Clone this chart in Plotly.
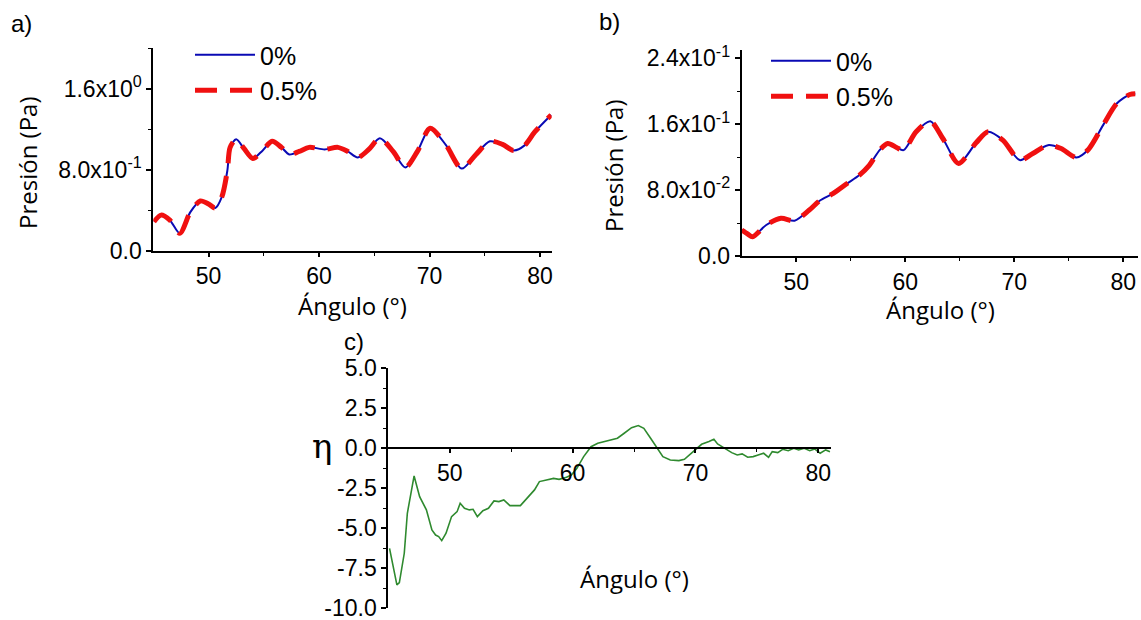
import plotly.graph_objects as go

W, H = 1141, 620

# ---------------- data ----------------
# Panel a: Presión (Pa) vs Ángulo (°)
angle_a = [45.06, 45.7, 46.5, 47.4, 48.35, 49.25, 50.0, 50.6, 51.2, 51.7, 51.95, 52.5, 53.2, 54.0,
           54.9, 55.75, 56.6, 57.3, 58.2, 59.1, 60.5, 61.7, 62.6, 63.5, 64.5, 65.5, 66.7, 67.8,
           68.9, 70.05, 71.5, 72.9, 74.2, 75.45, 76.6, 77.6, 78.6, 79.5, 81.0]
p0_a = [0.285, 0.35, 0.30, 0.17, 0.38, 0.49, 0.46, 0.42, 0.53, 0.79, 1.02, 1.10, 1.01, 0.91,
        0.99, 1.08, 1.02, 0.95, 0.98, 1.02, 1.00, 1.02, 0.98, 0.92, 1.00, 1.11, 0.98, 0.82,
        0.98, 1.21, 1.04, 0.81, 0.95, 1.08, 1.05, 0.99, 1.04, 1.17, 1.34]
p05_a = [0.285, 0.35, 0.30, 0.17, 0.38, 0.49, 0.46, 0.42, 0.53, 0.79, 1.02, 1.10, 1.01, 0.91,
         0.99, 1.08, 1.02, 0.95, 0.98, 1.02, 1.00, 1.02, 0.98, 0.92, 1.00, 1.11, 0.98, 0.82,
         0.98, 1.21, 1.04, 0.81, 0.95, 1.08, 1.05, 0.99, 1.04, 1.17, 1.34]

# Panel b
angle_b = [45.0, 45.55, 46.0, 47.25, 48.6, 49.85, 51.2, 52.15, 53.4, 54.6, 55.8, 56.7, 57.65,
           58.4, 59.2, 59.85, 61.0, 62.3, 63.45, 64.9, 66.5, 67.6, 68.95, 70.5, 71.7, 73.1,
           74.3, 75.7, 76.8, 78.15, 79.4, 80.6, 81.1]
p0_b = [0.0315, 0.0267, 0.0234, 0.0376, 0.0457, 0.0428, 0.0558, 0.0671, 0.0760, 0.0873, 0.0982,
        0.110, 0.1285, 0.1366, 0.1317, 0.1285, 0.1507, 0.1636, 0.1426, 0.1123, 0.1374, 0.1507,
        0.1406, 0.1164, 0.1244, 0.1345, 0.1305, 0.1196, 0.1293, 0.1588, 0.185, 0.196, 0.197]
p05_b = [0.0315, 0.0267, 0.0234, 0.0376, 0.0457, 0.0428, 0.0558, 0.0671, 0.0760, 0.0873, 0.0982,
         0.110, 0.1285, 0.1366, 0.1317, 0.1285, 0.1507, 0.1636, 0.1426, 0.1123, 0.1374, 0.1507,
         0.1406, 0.1164, 0.1244, 0.1345, 0.1305, 0.1196, 0.1293, 0.1588, 0.185, 0.196, 0.197]

# Panel c: eta vs angle
angle_c = [45.1, 45.4, 45.7, 45.9, 46.3, 46.55, 47.1, 47.55, 47.85, 48.1, 48.55, 48.85, 49.1, 49.35,
           49.7, 50.15, 50.6, 50.85, 51.2, 51.6, 51.9, 52.25, 52.7, 53.15, 53.6, 54.0, 54.4, 54.9,
           55.75, 56.25, 56.9, 57.3, 58.05, 58.45, 58.9, 59.5, 59.9, 60.35, 60.9, 61.5, 62.05,
           62.9, 63.65, 64.2, 64.8, 65.35, 65.8, 66.35, 66.95, 67.35, 67.95, 68.65, 69.1, 69.5,
           70.1, 70.5, 71.1, 71.5, 71.8, 72.15, 72.5, 72.95, 73.4, 73.8, 74.25, 74.7, 75.1, 75.55,
           75.95, 76.25, 76.7, 77.1, 77.55, 78.0, 78.4, 78.85, 79.3, 79.7, 80.15, 80.6, 80.95]
eta_c = [-6.25, -7.4, -8.54, -8.4, -6.56, -4.06, -1.73, -3.02, -3.44, -3.85, -5.1, -5.42, -5.52, -5.77,
         -5.31, -4.27, -3.96, -3.44, -3.75, -3.85, -3.81, -4.27, -3.9, -3.75, -3.29, -3.33, -3.23, -3.58,
         -3.58, -3.13, -2.6, -2.08, -1.92, -1.88, -1.94, -1.81, -1.67, -1.25, -0.52, 0.10, 0.31,
         0.46, 0.63, 0.94, 1.29, 1.42, 1.25, 0.63, -0.10, -0.52, -0.73, -0.77, -0.69, -0.42,
         0.0, 0.25, 0.42, 0.56, 0.27, 0.10, -0.10, -0.27, -0.42, -0.35, -0.56, -0.52, -0.42, -0.31,
         -0.56, -0.21, -0.27, -0.06, -0.15, 0.0, -0.10, 0.0, -0.15, -0.04, -0.31, -0.10, -0.21]

x_ticks = [50, 60, 70, 80]
x_minor = [55, 65, 75]
ya_ticks = [0.0, 0.8, 1.6]
ya_text = ["0.0", "8.0x10<sup>-1</sup>", "1.6x10<sup>0</sup>"]
ya_minor = [0.4, 1.2, 2.0]
yb_ticks = [0.0, 0.08, 0.16, 0.24]
yb_text = ["0.0", "8.0x10<sup>-2</sup>", "1.6x10<sup>-1</sup>", "2.4x10<sup>-1</sup>"]
yb_minor = [0.04, 0.12, 0.20]
yc_ticks = [-10.0, -7.5, -5.0, -2.5, 0.0, 2.5, 5.0]
yc_text = ["-10.0", "-7.5", "-5.0", "-2.5", "0.0", "2.5", "5.0"]
yc_minor = [-8.75, -6.25, -3.75, -1.25, 1.25, 3.75]

# ---------------- helpers ----------------
def px(x):
    return x / W

def py(y):
    return 1 - y / H

BLUE = "#0a0ab4"
RED = "#f01010"
GREEN = "#2f8a2f"
ARIAL = "Liberation Sans, Arial, sans-serif"
TICKFONT = dict(family=ARIAL, size=23, color="black")
TITLEFONT = dict(family="Open Sans, sans-serif", size=24, color="black")
LEGFONT = dict(family=ARIAL, size=25, color="black")

fig = go.Figure()

# Panel a
fig.add_trace(go.Scatter(x=angle_a, y=p0_a, mode="lines", name="0%",
                         line=dict(color=BLUE, width=2, shape="spline", smoothing=0.8),
                         xaxis="x", yaxis="y", legend="legend"))
fig.add_trace(go.Scatter(x=angle_a, y=p05_a, mode="lines", name="0.5%",
                         line=dict(color=RED, width=5, dash="22px,13px", shape="spline", smoothing=0.8),
                         xaxis="x", yaxis="y", legend="legend"))
# Panel b
fig.add_trace(go.Scatter(x=angle_b, y=p0_b, mode="lines", name="0%",
                         line=dict(color=BLUE, width=2, shape="spline", smoothing=0.8),
                         xaxis="x2", yaxis="y2", legend="legend2"))
fig.add_trace(go.Scatter(x=angle_b, y=p05_b, mode="lines", name="0.5%",
                         line=dict(color=RED, width=5, dash="22px,13px", shape="spline", smoothing=0.8),
                         xaxis="x2", yaxis="y2", legend="legend2"))
# Panel c
fig.add_trace(go.Scatter(x=angle_c, y=eta_c, mode="lines", showlegend=False,
                         line=dict(color=GREEN, width=1.6),
                         xaxis="x3", yaxis="y3"))

axis_common = dict(showline=True, linecolor="black", linewidth=2, ticks="outside",
                   ticklen=5, tickwidth=1.5, tickcolor="black", showgrid=False,
                   zeroline=False, tickfont=TICKFONT, automargin=False,
                   ticklabeloverflow="allow")

def xaxis(domain, rng, anchor, **kw):
    d = dict(axis_common)
    d.update(domain=domain, range=rng, anchor=anchor, tickmode="array", tickvals=x_ticks,
             ticktext=[str(v) for v in x_ticks], ticklen=4,
             minor=dict(tickmode="array", tickvals=x_minor, ticks="outside", ticklen=3,
                        tickcolor="black", tickwidth=1.2))
    d.update(kw)
    return d

def yaxis(domain, rng, anchor, tv, tt, mv):
    d = dict(axis_common)
    d.update(domain=domain, range=rng, anchor=anchor, tickmode="array", tickvals=tv,
             ticktext=tt,
             minor=dict(tickmode="array", tickvals=mv, ticks="outside", ticklen=3,
                        tickcolor="black", tickwidth=1.2))
    return d

# domains (pixel based)
a_x = [px(153.3), px(551.7)]
a_y = [py(250.5), py(48.3)]
b_x = [px(741.7), px(1138)]
b_y = [py(256), py(50)]
c_x = [px(388.3), px(830.6)]
c_y = [py(608.3), py(368.3)]
c_zero = c_y[0] + (0 - (-10)) / 15 * (c_y[1] - c_y[0])

fig.update_layout(
    width=W, height=H, autosize=False,
    margin=dict(l=0, r=0, t=0, b=0, autoexpand=False),
    paper_bgcolor="white", plot_bgcolor="rgba(0,0,0,0)",
    xaxis=xaxis(a_x, [45, 81.05], "y"),
    yaxis=yaxis(a_y, [0, 2.0], "x", ya_ticks, ya_text, ya_minor),
    xaxis2=xaxis(b_x, [45, 81.35], "y2"),
    yaxis2=yaxis(b_y, [0, 0.25], "x2", yb_ticks, yb_text, yb_minor),
    xaxis3=xaxis(c_x, [45, 81.0], "free", position=c_zero),
    yaxis3=yaxis(c_y, [-10, 5], "x3", yc_ticks, yc_text, yc_minor),
    legend=dict(x=px(190), y=py(32), xanchor="left", yanchor="top",
                bgcolor="rgba(0,0,0,0)", itemwidth=60, font=LEGFONT),
    legend2=dict(x=px(766), y=py(38), xanchor="left", yanchor="top",
                 bgcolor="rgba(0,0,0,0)", itemwidth=60, font=LEGFONT),
    showlegend=True,
)

ann = []
def label(text, x, y, font, angle=0):
    ann.append(dict(text=text, x=px(x), y=py(y), xref="paper", yref="paper",
                    showarrow=False, xanchor="center", yanchor="middle",
                    textangle=angle, font=font))

PANEL = dict(family=ARIAL, size=24, color="black")
label("a)", 21, 24, PANEL)
label("b)", 609, 21, PANEL)
label("c)", 354, 341, PANEL)
label("Presión (Pa)", 27, 163, TITLEFONT, -90)
label("Presión (Pa)", 613, 166, TITLEFONT, -90)
label("Ángulo (°)", 352, 305, TITLEFONT)
label("Ángulo (°)", 940, 309, TITLEFONT)
label("Ángulo (°)", 634, 578, TITLEFONT)
label("η", 322, 446, dict(family="DejaVu Serif, Liberation Serif, serif", size=34, color="black"))
fig.update_layout(annotations=ann)

fig.write_html("out.html")
